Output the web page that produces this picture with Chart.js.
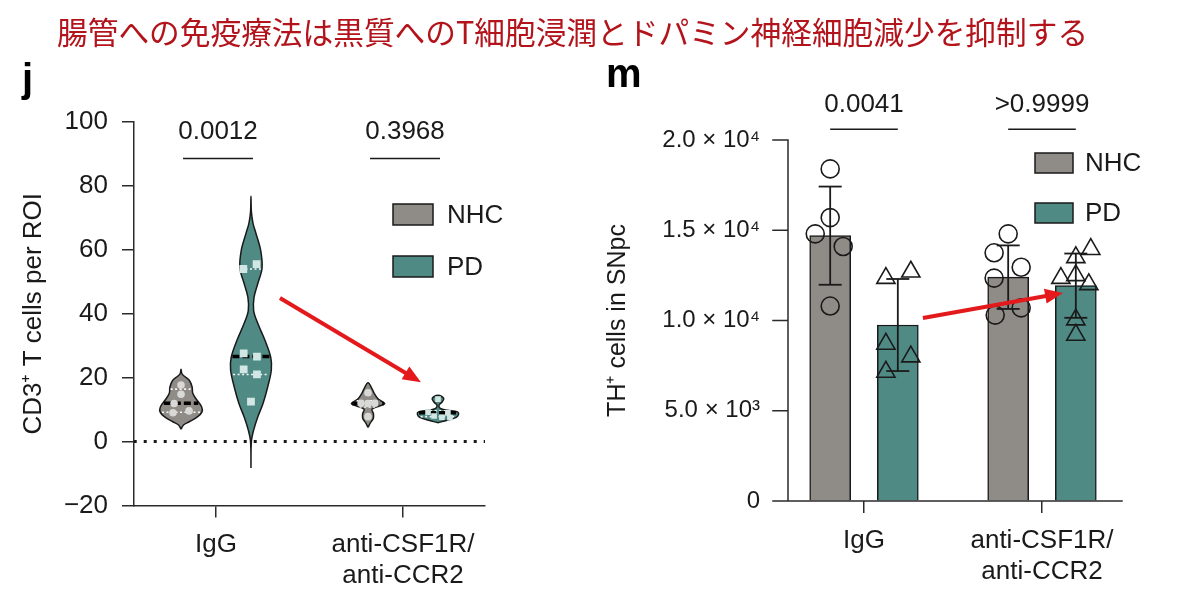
<!DOCTYPE html>
<html>
<head>
<meta charset="utf-8">
<script src="https://cdn.jsdelivr.net/npm/chart.js@4.4.1/dist/chart.umd.min.js"></script>
<style>
  html, body { margin: 0; padding: 0; background: #fff; }
  #wrap { position: relative; width: 1200px; height: 615px; overflow: hidden; }
  canvas { position: absolute; top: 0; }
  #chartJ { left: 0; }
  #chartM { left: 600px; }
  #title { position: absolute; left: 57px; top: 14px; height: 34px; line-height: 34px;
           font-family: "Noto Sans CJK JP", sans-serif; font-size: 30.7px; color: #b3131b; white-space: nowrap; }
</style>
</head>
<body>
<div id="wrap">
  <canvas id="chartJ" width="600" height="615"></canvas>
  <canvas id="chartM" width="600" height="615"></canvas>
  <div id="title">腸管への免疫療法は黒質へのT細胞浸潤とドパミン神経細胞減少を抑制する</div>
</div>
<script>
// shared groups
var groupLabels = ['IgG', ['anti-CSF1R/', 'anti-CCR2']];
var seriesNames = ['NHC', 'PD'];

// panel j - CD3+ T cells per ROI (violins)
var yTicksJ = [-20, 0, 20, 40, 60, 80, 100];
var pValuesJ = ['0.0012', '0.3968'];

// violin outlines: value levels (bottom to top) and relative density (widest ~ 1)
var nhcIgGLevels = [3.9, 5.2, 6.2, 7.8, 9.3, 10.9, 13, 15.1, 17.1, 19.2, 20.5, 21.3, 22.6];
var nhcIgGDensity = [0, 0.12, 0.4, 0.81, 1.02, 1.0, 0.77, 0.57, 0.54, 0.4, 0.15, 0.04, 0];
var pdIgGLevels = [-8.3, 0, 3.6, 7.7, 12, 17, 22.4, 26.4, 31.7, 37, 41, 45.2, 49.6, 54.3, 59.9, 65.2, 68.3, 72, 76.8];
var pdIgGDensity = [0, 0.02, 0.13, 0.33, 0.59, 0.81, 0.99, 0.96, 0.68, 0.33, 0.13, 0.15, 0.34, 0.54, 0.47, 0.24, 0.1, 0.02, 0];
var nhcAntiLevels = [4.4, 5.7, 7.3, 8.8, 10.1, 11.1, 11.9, 13.2, 15.1, 16.6, 18.4];
var nhcAntiDensity = [0, 0.1, 0.26, 0.26, 0.19, 0.55, 0.81, 0.51, 0.3, 0.19, 0];
var pdAntiLevels = [5.9, 6.7, 7.6, 8.5, 9.3, 9.8, 10.4, 11.4, 12.4, 13.5, 14.5];
var pdAntiDensity = [0, 0.45, 0.89, 1.0, 0.95, 0.45, 0.11, 0.05, 0.2, 0.28, 0];

// [lower quartile, median, upper quartile]
var nhcIgGQuart = [9.2, 12.0, 16.4];
var pdIgGQuart = [21.0, 26.6, 54.0];
var nhcAntiQuart = [10.8, 11.9, 12.8];
var pdAntiQuart = [7.8, 9.0, 9.6];

// single animals
var nhcIgGPoints = [17.7, 14.8, 11.9, 9.6, 9.0];
var pdIgGPoints = [54.0, 55.5, 27.6, 26.6, 22.6, 21.0, 12.5];
var nhcAntiPoints = [15.3, 12.0, 12.0, 11.9, 7.8];
var pdAntiPoints = [13.3, 9.2, 9.0, 8.0, 7.6, 7.5];

// panel m - TH+ cells in SNpc (bars, mean +/- SD)
var yTicksM = [0, 5000, 10000, 15000, 20000];
var pValuesM = ['0.0041', '>0.9999'];
var nhcMean = [14700, 12400];
var nhcSD = [2720, 1760];
var pdMean = [9750, 11930];
var pdSD = [2550, 1780];
var nhcIgGCells = [18400, 15700, 14800, 14100, 10800];
var pdIgGCells = [12350, 12700, 8700, 8000, 7150];
var nhcAntiCells = [14800, 13750, 12950, 12350, 10300, 10700];
var pdAntiCells = [13950, 13500, 12350, 12500, 12000, 10050, 9200];

// horizontal scatter of the dots (in group units)
var nhcIgGJitterJ = [0, 0, -0.037, 0.043, -0.043];
var pdIgGJitterJ = [-0.041, 0.03, -0.039, 0.032, -0.039, 0.032, 0];
var nhcAntiJitterJ = [0, -0.037, 0.037, 0, 0];
var pdAntiJitterJ = [0, -0.053, 0.053, -0.021, 0.021, 0.064];
var nhcIgGJitterM = [0, 0, -0.084, 0.073, 0];
var pdIgGJitterM = [-0.067, 0.073, -0.067, 0.073, -0.067];
var nhcAntiJitterM = [0, -0.079, 0.073, -0.079, -0.073, 0.073];
var pdAntiJitterM = [0.084, 0, -0.084, 0, 0.073, 0, 0];

Chart.defaults.font.family = '"Liberation Sans", Arial, Helvetica, sans-serif';
Chart.defaults.color = '#1a1a1a';

var INK = '#1a1a1a';
var AXIS = '#2b2b2b';
var NHC_FILL = '#8f8b86';
var PD_FILL = '#4f8a85';
var NHC_DOT = '#d8d8d6';
var PD_DOT = '#d2e6e3';
var RED = '#e3191c';
var FONT = '"Liberation Sans", Arial, sans-serif';

var VIOLIN_HALF = 0.11;   // x units for density 1
var GROUP_OFF_J = 0.187;  // NHC/PD shift from group centre
var BAR_OFF = 0.19;       // NHC/PD bar shift from group centre

function outline(cx, levels, dens) {
  var right = levels.map(function (v, i) { return {x: cx + dens[i] * VIOLIN_HALF, y: v}; });
  var left = levels.map(function (v, i) { return {x: cx - dens[i] * VIOLIN_HALF, y: v}; }).reverse();
  return right.concat(left.slice(1));
}

function halfAt(levels, dens, v) {
  for (var i = 1; i < levels.length; i++) {
    if (v <= levels[i]) {
      var t = (v - levels[i - 1]) / (levels[i] - levels[i - 1]);
      return (dens[i - 1] + t * (dens[i] - dens[i - 1])) * VIOLIN_HALF;
    }
  }
  return 0;
}

function arrow(ctx, x0, y0, x1, y1) {
  var a = Math.atan2(y1 - y0, x1 - x0), L = 18, W = 7.5;
  var c = Math.cos(a), s = Math.sin(a);
  ctx.strokeStyle = RED;
  ctx.fillStyle = RED;
  ctx.lineWidth = 4;
  ctx.beginPath();
  ctx.moveTo(x0, y0);
  ctx.lineTo(x1 - L * 0.8 * c, y1 - L * 0.8 * s);
  ctx.stroke();
  ctx.beginPath();
  ctx.moveTo(x1, y1);
  ctx.lineTo(x1 - L * c + W * s, y1 - L * s - W * c);
  ctx.lineTo(x1 - L * c - W * s, y1 - L * s + W * c);
  ctx.closePath();
  ctx.fill();
}

function legend(ctx, bx, bw, bh, tops, tx) {
  [NHC_FILL, PD_FILL].forEach(function (col, i) {
    ctx.fillStyle = col;
    ctx.fillRect(bx, tops[i], bw, bh);
    ctx.strokeStyle = INK;
    ctx.lineWidth = 1.5;
    ctx.strokeRect(bx, tops[i], bw, bh);
    ctx.fillStyle = INK;
    ctx.font = '26px ' + FONT;
    ctx.textAlign = 'left';
    ctx.textBaseline = 'middle';
    ctx.fillText(seriesNames[i], tx, tops[i] + bh / 2 + 1);
  });
}

function pBracket(ctx, text, xa, xb, yl, yt) {
  ctx.strokeStyle = INK;
  ctx.lineWidth = 1.5;
  ctx.beginPath();
  ctx.moveTo(xa, yl);
  ctx.lineTo(xb, yl);
  ctx.stroke();
  ctx.fillStyle = INK;
  ctx.font = '26px ' + FONT;
  ctx.textAlign = 'center';
  ctx.textBaseline = 'middle';
  ctx.fillText(text, (xa + xb) / 2, yt);
}

function groupTicks(s) { s.ticks = [{value: 0}, {value: 1}]; }

//violin panel

var violins = [
  {cx: -GROUP_OFF_J, levels: nhcIgGLevels, dens: nhcIgGDensity, quart: nhcIgGQuart, pts: nhcIgGPoints, jit: nhcIgGJitterJ, fill: NHC_FILL, dot: NHC_DOT, style: 'circle', r: 3.8},
  {cx: GROUP_OFF_J, levels: pdIgGLevels, dens: pdIgGDensity, quart: pdIgGQuart, pts: pdIgGPoints, jit: pdIgGJitterJ, fill: PD_FILL, dot: PD_DOT, style: 'rect', r: 5.5},
  {cx: 1 - GROUP_OFF_J, levels: nhcAntiLevels, dens: nhcAntiDensity, quart: nhcAntiQuart, pts: nhcAntiPoints, jit: nhcAntiJitterJ, fill: NHC_FILL, dot: NHC_DOT, style: 'circle', r: 3.8},
  {cx: 1 + GROUP_OFF_J, levels: pdAntiLevels, dens: pdAntiDensity, quart: pdAntiQuart, pts: pdAntiPoints, jit: pdAntiJitterJ, fill: PD_FILL, dot: PD_DOT, style: 'rect', r: 4}
];

var jDatasets = [{
  data: [{x: -0.44, y: 0}, {x: 1.44, y: 0}],
  borderColor: INK, borderWidth: 3, borderDash: [3, 7], pointRadius: 0, order: 6
}];

violins.forEach(function (v) {
  jDatasets.push({
    data: outline(v.cx, v.levels, v.dens),
    borderColor: INK, borderWidth: 1.5, backgroundColor: v.fill,
    fill: 'shape', tension: 0.35, pointRadius: 0, order: 5
  });
  [v.quart[0], v.quart[2]].forEach(function (q) {
    var h = halfAt(v.levels, v.dens, q) * 0.92;
    jDatasets.push({
      data: [{x: v.cx - h, y: q}, {x: v.cx + h, y: q}],
      borderColor: 'rgba(255,255,255,0.95)', borderWidth: 1.6, borderDash: [2, 2.5],
      pointRadius: 0, order: 3
    });
  });
  var hm = halfAt(v.levels, v.dens, v.quart[1]) * 0.95;
  jDatasets.push({
    data: [{x: v.cx - hm, y: v.quart[1]}, {x: v.cx + hm, y: v.quart[1]}],
    borderColor: '#000', borderWidth: 3.5, borderDash: [7, 3], pointRadius: 0, order: 2
  });
  jDatasets.push({
    data: v.pts.map(function (p, i) { return {x: v.cx + v.jit[i], y: p}; }),
    showLine: false, pointStyle: v.style, pointRadius: v.r,
    pointBackgroundColor: v.dot, pointBorderWidth: 0, order: 1
  });
});

var annotJ = {
  id: 'annotJ',
  afterDatasetsDraw: function (chart) {
    var ctx = chart.ctx, x = chart.scales.x, y = chart.scales.y;
    ctx.save();
    pValuesJ.forEach(function (t, g) {
      pBracket(ctx, t, x.getPixelForValue(g - GROUP_OFF_J) + 2, x.getPixelForValue(g + GROUP_OFF_J) + 2,
               y.getPixelForValue(88.6), y.getPixelForValue(96.8));
    });
    legend(ctx, 393, 40, 21, [204, 256], 447);
    arrow(ctx, x.getPixelForValue(0.342), y.getPixelForValue(44.9), x.getPixelForValue(1.096), y.getPixelForValue(18.6));
    ctx.fillStyle = '#000';
    ctx.font = 'bold 40px ' + FONT;
    ctx.textAlign = 'left';
    ctx.textBaseline = 'alphabetic';
    ctx.fillText('j', 22, 92);
    ctx.restore();
  }
};

new Chart(document.getElementById('chartJ'), {
  type: 'line',
  data: { datasets: jDatasets },
  options: {
    responsive: false,
    animation: false,
    layout: { padding: { left: 0, right: 115, top: 122, bottom: 0 } },
    plugins: { legend: { display: false }, tooltip: { enabled: false } },
    scales: {
      x: {
        type: 'linear', min: -0.4385, max: 1.4385,
        afterBuildTicks: groupTicks,
        afterFit: function (s) { s.height = 109.5; },
        grid: { drawOnChartArea: false, tickLength: 12, color: AXIS, lineWidth: 1.5 },
        border: { color: AXIS, width: 1.5 },
        ticks: {
          autoSkip: false, maxRotation: 0, padding: 12, color: INK,
          font: { size: 26, lineHeight: 1.2 },
          callback: function (v, i) { return groupLabels[i]; }
        }
      },
      y: {
        min: -20, max: 100,
        afterBuildTicks: function (s) { s.ticks = yTicksJ.map(function (v) { return {value: v}; }); },
        afterFit: function (s) { s.width = 134; },
        grid: { drawOnChartArea: false, tickLength: 12, color: AXIS, lineWidth: 1.5 },
        border: { color: AXIS, width: 1.5 },
        ticks: {
          padding: 14, color: INK, font: { size: 26 },
          callback: function (v) { return v < 0 ? '\u2212' + Math.abs(v) : String(v); }
        },
        title: {
          display: true, text: 'CD3\u207A T cells per ROI', color: INK,
          font: { size: 26, lineHeight: 1.2 }, padding: { top: 18, bottom: 0 }
        }
      }
    }
  },
  plugins: [annotJ]
});

//bar panel

function sciLabel(v) {
  if (v === 0) return '0';
  if (v < 10000) return (v / 1000).toFixed(1) + ' \u00D7 10\u00B3';
  return (v / 10000).toFixed(1) + ' \u00D7 10\u2074';
}

var mDatasets = [];

[[nhcMean, nhcSD, -BAR_OFF, NHC_FILL, 'NHC'], [pdMean, pdSD, BAR_OFF, PD_FILL, 'PD']].forEach(function (s) {
  mDatasets.push({
    type: 'bar', label: s[4], grouped: false, barThickness: 41,
    data: s[0].map(function (m, g) { return {x: g + s[2], y: m}; }),
    backgroundColor: s[3], borderColor: INK, borderWidth: 1.5, order: 3
  });
  s[0].forEach(function (m, g) {
    mDatasets.push({
      type: 'line',
      data: [{x: g + s[2], y: m - s[1][g]}, {x: g + s[2], y: m + s[1][g]}],
      borderColor: INK, borderWidth: 1.8,
      pointStyle: 'line', pointRadius: 11.5, pointBorderWidth: 1.8, pointBorderColor: INK,
      order: 2
    });
  });
});

[
  [nhcIgGCells, nhcIgGJitterM, -BAR_OFF, 'circle', 9],
  [pdIgGCells, pdIgGJitterM, BAR_OFF, 'triangle', 10.5],
  [nhcAntiCells, nhcAntiJitterM, 1 - BAR_OFF, 'circle', 9],
  [pdAntiCells, pdAntiJitterM, 1 + BAR_OFF, 'triangle', 10.5]
].forEach(function (s) {
  mDatasets.push({
    type: 'line', showLine: false,
    data: s[0].map(function (v, i) { return {x: s[2] + s[1][i], y: v}; }),
    pointStyle: s[3], pointRadius: s[4], pointBorderWidth: 1.6,
    pointBorderColor: INK, pointBackgroundColor: 'rgba(0,0,0,0)',
    order: 1
  });
});

var annotM = {
  id: 'annotM',
  afterDatasetsDraw: function (chart) {
    var ctx = chart.ctx, a = chart.chartArea, x = chart.scales.x, y = chart.scales.y;
    var axisX = a.left + 13, y0 = y.getPixelForValue(0);
    ctx.save();
    ctx.strokeStyle = AXIS;
    ctx.lineWidth = 1.5;
    ctx.lineCap = 'square';
    ctx.beginPath();
    ctx.moveTo(axisX, y.getPixelForValue(yTicksM[yTicksM.length - 1]));
    ctx.lineTo(axisX, y0);
    yTicksM.forEach(function (v) {
      var py = y.getPixelForValue(v);
      ctx.moveTo(a.left - 2, py);
      ctx.lineTo(axisX, py);
    });
    ctx.moveTo(a.left - 2, y0);
    ctx.lineTo(a.right - 9, y0);
    ctx.stroke();
    ctx.lineCap = 'butt';
    pValuesM.forEach(function (t, g) {
      pBracket(ctx, t, x.getPixelForValue(g - BAR_OFF), x.getPixelForValue(g + BAR_OFF),
               y.getPixelForValue(20600), y.getPixelForValue(21950));
    });
    legend(ctx, 435, 38, 20, [153, 203], 485);
    arrow(ctx, x.getPixelForValue(0.331), y.getPixelForValue(10140), x.getPixelForValue(1.118), y.getPixelForValue(11520));
    ctx.fillStyle = '#000';
    ctx.font = 'bold 40px ' + FONT;
    ctx.textAlign = 'left';
    ctx.textBaseline = 'alphabetic';
    ctx.fillText('m', 6, 87);
    ctx.restore();
  }
};

new Chart(document.getElementById('chartM'), {
  type: 'bar',
  data: { datasets: mDatasets },
  options: {
    responsive: false,
    animation: false,
    layout: { padding: { left: 0, right: 69, top: 140, bottom: 0 } },
    plugins: { legend: { display: false }, tooltip: { enabled: false } },
    scales: {
      x: {
        type: 'linear', min: -0.5, max: 1.5, offset: false,
        afterBuildTicks: groupTicks,
        afterFit: function (s) { s.height = 114; },
        grid: { offset: false, drawOnChartArea: false, tickLength: 12, color: AXIS, lineWidth: 1.5 },
        border: { display: false },
        ticks: {
          autoSkip: false, maxRotation: 0, padding: 13, color: INK,
          font: { size: 26, lineHeight: 1.17 },
          callback: function (v, i) { return groupLabels[i]; }
        }
      },
      y: {
        min: 0, max: 20000,
        afterBuildTicks: function (s) { s.ticks = yTicksM.map(function (v) { return {value: v}; }); },
        afterFit: function (s) { s.width = 175; },
        grid: { drawOnChartArea: false, drawTicks: false },
        border: { display: false },
        ticks: { padding: 15, color: INK, font: { size: 24 }, callback: sciLabel },
        title: {
          display: true, text: 'TH\u207A cells in SNpc', color: INK,
          font: { size: 25, lineHeight: 1 }, padding: { top: 6, bottom: 0 }
        }
      }
    }
  },
  plugins: [annotM]
});
</script>
</body>
</html>
